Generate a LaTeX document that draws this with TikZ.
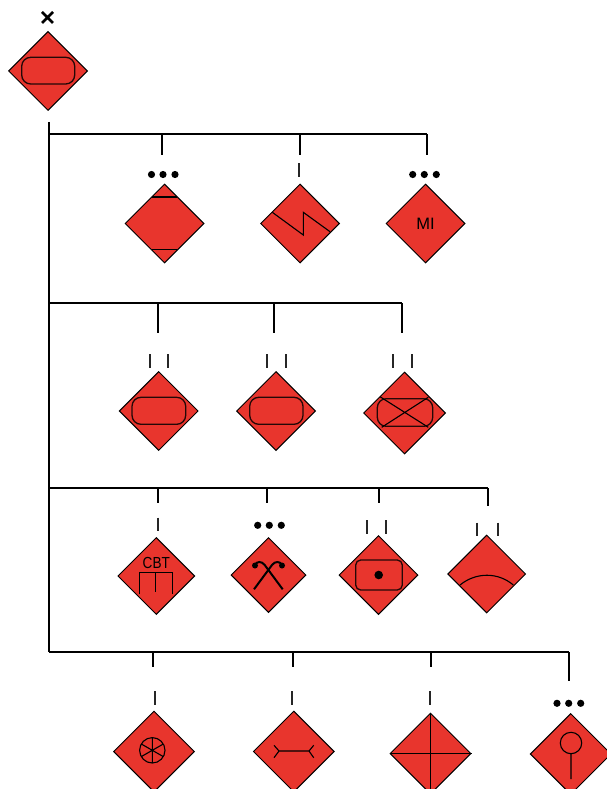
\documentclass[tikz,border=0pt]{standalone}
\usepackage{fontspec}
\setmainfont{Liberation Sans}
\usetikzlibrary{shapes.geometric}

\definecolor{hazardred}{HTML}{E8352D}

\tikzset{
    sign/.style={diamond, draw=black, fill=hazardred, line width=1pt, inner sep=0pt,
                 shape aspect=1, minimum width=#1, minimum height=#1},
    sign/.default=79pt,
    branch/.style={draw=black, line width=2.3pt},
    tickmark/.style={draw=black!85, line width=2pt},
    dotmark/.style={circle, fill=black, inner sep=0pt, minimum size=7.2pt},
    glyph/.style={draw=black, line width=1.1pt},
    capsule/.style={draw=black!85!hazardred, line width=1.3pt, rounded corners=9pt}
}

\begin{document}
\begin{tikzpicture}[x=1pt, y=-1pt]
    \useasboundingbox (0,0) rectangle (606,789);

    % signs
    \node[sign] (top) at (48,71) {};

    \node[sign] (A1) at (164.5,223.5) {};
    \node[sign] (A2) at (300,223.5)   {};
    \node[sign] (A3) at (425.5,223.5) {};

    \node[sign]        (B1) at (158.7,411) {};
    \node[sign]        (B2) at (276,411)   {};
    \node[sign=82pt]   (B3) at (404.5,413) {};

    \node[sign=77pt]   (C1) at (156.3,576)   {};
    \node[sign=75pt]   (C2) at (268.5,575)   {};
    \node[sign]        (C3) at (378.5,575)   {};
    \node[sign=78pt]   (C4) at (486.7,574)   {};

    \node[sign=81pt]   (D1) at (154,751.5)   {};
    \node[sign=81pt]   (D2) at (293.8,751.5) {};
    \node[sign=81pt]   (D3) at (430.5,753.5) {};
    \node[sign=81pt]   (D4) at (570.7,754)   {};

    % tree
    \coordinate (T0) at (49,122);
    \coordinate (T1) at (49,134);
    \coordinate (T2) at (49,303);
    \coordinate (T3) at (49,488);
    \coordinate (T4) at (49,652);

    \coordinate (a1) at (162,134);   \coordinate (a1e) at (162,155);
    \coordinate (a2) at (300,134);   \coordinate (a2e) at (300,155);
    \coordinate (a3) at (427,134);   \coordinate (a3e) at (427,155);
    \coordinate (b1) at (158,303);   \coordinate (b1e) at (158,333);
    \coordinate (b2) at (274,303);   \coordinate (b2e) at (274,333);
    \coordinate (b3) at (402,303);   \coordinate (b3e) at (402,333);
    \coordinate (c1) at (158,488);   \coordinate (c1e) at (158,503);
    \coordinate (c2) at (267,488);   \coordinate (c2e) at (267,503);
    \coordinate (c3) at (379,488);   \coordinate (c3e) at (379,503);
    \coordinate (c4) at (488,488);   \coordinate (c4e) at (488,506);
    \coordinate (d1) at (153,652);   \coordinate (d1e) at (153,667);
    \coordinate (d2) at (293,652);   \coordinate (d2e) at (293,667);
    \coordinate (d3) at (431,652);   \coordinate (d3e) at (431,667);
    \coordinate (d4) at (569,652);   \coordinate (d4e) at (569,681);

    \path[branch] (T0) edge (T4)
                  (T1) edge (a3)
                  (T2) edge (b3)
                  (T3) edge (c4)
                  (T4) edge (d4)
                  (a1) edge (a1e)
                  (a2) edge (a2e)
                  (a3) edge (a3e)
                  (b1) edge (b1e)
                  (b2) edge (b2e)
                  (b3) edge (b3e)
                  (c1) edge (c1e)
                  (c2) edge (c2e)
                  (c3) edge (c3e)
                  (c4) edge (c4e)
                  (d1) edge (d1e)
                  (d2) edge (d2e)
                  (d3) edge (d3e)
                  (d4) edge (d4e);

    % size marks
    \draw[line width=2.8pt] (42,12) -- (53,23) (53,12) -- (42,23);

    \node[dotmark] (a1x) at (151.5,174.5) {};
    \node[dotmark] (a1y) at (163,174.5)   {};
    \node[dotmark] (a1z) at (175,174.5)   {};
    \node[dotmark] (a3x) at (412.7,174.5) {};
    \node[dotmark] (a3y) at (424.3,174.5) {};
    \node[dotmark] (a3z) at (436.3,174.5) {};
    \node[dotmark] (c2x) at (257.7,525.3) {};
    \node[dotmark] (c2y) at (269.3,525.3) {};
    \node[dotmark] (c2z) at (281.3,525.3) {};
    \node[dotmark] (d4x) at (557,703.3)   {};
    \node[dotmark] (d4y) at (568.7,703.3) {};
    \node[dotmark] (d4z) at (580.7,703.3) {};

    \draw[tickmark] (298.5,163) -- (298.5,176.5);
    \draw[tickmark] (149.5,354) -- (149.5,367.5) (168,354) -- (168,367.5);
    \draw[tickmark] (267,354) -- (267,367.5) (285.7,354) -- (285.7,367.5);
    \draw[tickmark] (393,354) -- (393,367.5) (412,354) -- (412,367.5);
    \draw[tickmark] (158.3,517.5) -- (158.3,531);
    \draw[tickmark] (367,520) -- (367,534) (386,520) -- (386,534);
    \draw[tickmark] (477,522.5) -- (477,536) (498,522.5) -- (498,536);
    \draw[tickmark] (155.3,691) -- (155.3,705);
    \draw[tickmark] (291.7,691) -- (291.7,705);
    \draw[tickmark] (430.3,691) -- (430.3,705);

    % symbols
    \draw[capsule] (21.7,57.3) rectangle (74.7,84);

    \draw[glyph] (151.7,197) -- (177.3,197) (151.7,249.5) -- (177.3,249.5);
    \draw[glyph] (272.3,212.3) -- (303.3,235) -- (303.3,212.3) -- (330,231.7);
    \node[font=\fontsize{16.5}{16.5}\selectfont, inner sep=0pt] (mi) at (425.5,223.5) {MI};

    \draw[capsule] (132,397.3) rectangle (185.7,424.3);
    \draw[capsule] (249.7,397.3) rectangle (303,424.3);
    \draw[capsule] (377.3,398.7) rectangle (432.7,426.3);
    \draw[glyph] (380,396.7) -- (428.3,427.3) (381.7,427.3) -- (428.3,397.3);

    \node[font=\fontsize{16}{16}\selectfont, inner sep=0pt] (cbt) at (156.3,562.5) {\scalebox{.85}[1]{CBT}};
    \draw[glyph] (139.3,594.3) -- (139.3,572.3) -- (172.3,572.3) -- (172.3,594.3)
                 (155.7,572.3) -- (155.7,591.7);

    \draw[line width=2pt] (254,589.3) -- (272,565) .. controls (275,561) and (280,561) .. (282,565);
    \draw[line width=2pt] (282.7,589.3) -- (264.7,565) .. controls (261.7,561) and (256.7,561) .. (255,565);
    \fill (282,565.5) circle (3pt) (255,565.5) circle (3pt);

    \draw[capsule, rounded corners=5pt] (355.7,560) rectangle (402.3,590);
    \node[dotmark, minimum size=8.6pt] (c3dot) at (378.7,575) {};

    \draw[glyph] (460,585) .. controls (476,572) and (498,572) .. (513.3,585);

    \draw[glyph] (152.3,750.3) circle (12.7pt)
                 (152.3,737.6) -- (152.3,763)
                 (141.3,744) -- (163.3,756.6)
                 (141.3,756.6) -- (163.3,744);

    \draw[glyph] (279,751) -- (309,751)
                 (274,745.3) -- (279,751) -- (274,757.7)
                 (313.7,745.3) -- (309,751) -- (313.7,757.7);

    \draw[glyph] (D3.north) -- (D3.south) (D3.west) -- (D3.east);

    \draw[glyph] (571,743) circle (10.7pt) (571,753.7) -- (571,779);
\end{tikzpicture}
\end{document}
